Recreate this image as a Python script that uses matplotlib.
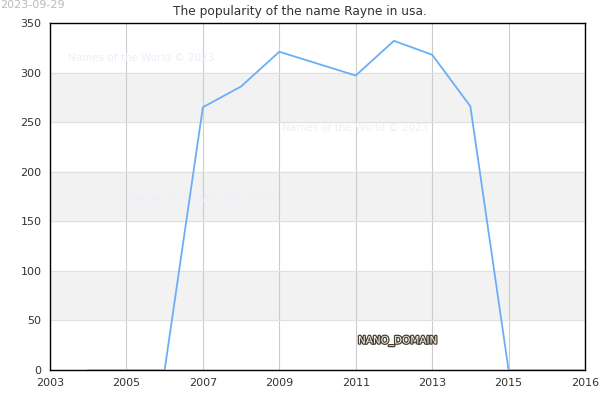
import matplotlib
matplotlib.use('Agg')
import matplotlib.pyplot as plt
import matplotlib.patheffects as pe

# Données
annees = [2004, 2005, 2006, 2007, 2008, 2009, 2011, 2012, 2013, 2014, 2015, 2016, 2017]
valeurs = [0, 0, 0, 265, 286, 321, 297, 332, 318, 266, 0, 0, 0]

tick_pos = [2003, 2005, 2007, 2009, 2011, 2013, 2015, 2017]
tick_labels = ['2003', '2005', '2007', '2009', '2011', '2013', '2015', '2016']
y_ticks = [0, 50, 100, 150, 200, 250, 300, 350]

fig = plt.figure(figsize=(6, 4), dpi=100)
ax = fig.add_axes([50/600, 30/400, 535/600, 347/400])

# Bandes grises alternées
for y0 in [50, 150, 250]:
    ax.axhspan(y0, y0 + 50, color='#f2f2f2', zorder=0)

ax.plot(annees, valeurs, color='#6aaff5', linewidth=1.3, zorder=3)

ax.set_xlim(2003, 2017)
ax.set_ylim(0, 350)
ax.set_xticks(tick_pos)
ax.set_xticklabels(tick_labels)
ax.set_yticks(y_ticks)
ax.tick_params(length=0, labelsize=8, colors='#333333', pad=6)
ax.grid(axis='x', color='#cccccc', linewidth=0.8, zorder=1)
ax.grid(axis='y', color='#e0e0e0', linewidth=0.8, zorder=1)
ax.set_axisbelow(True)
for s in ax.spines.values():
    s.set_color('black')
    s.set_linewidth(1)

fig.text(0.5, 1 - 11/400, 'The popularity of the name Rayne in usa.',
         ha='center', va='center', fontsize=8.8, color='#333333')
fig.text(0, 1, '2023-09-29', ha='left', va='top', fontsize=8, color='#bbbbbb')

# Filigranes (sous la courbe)
for (px, py) in [(68, 58), (282, 128), (127, 199)]:
    ax.text(px/600, 1 - py/400, 'Names of the World © 2023', ha='left', va='center',
            fontsize=7.5, color='#eeeefa', transform=fig.transFigure, zorder=2)

fig.text(358/600, 1 - 341/400, 'NANO_DOMAIN', ha='left', va='center', fontsize=7.5,
         color='#f5f5f0',
         path_effects=[pe.withStroke(linewidth=1.8, foreground='#4a4035')])

fig.savefig('out.png', dpi=100)
